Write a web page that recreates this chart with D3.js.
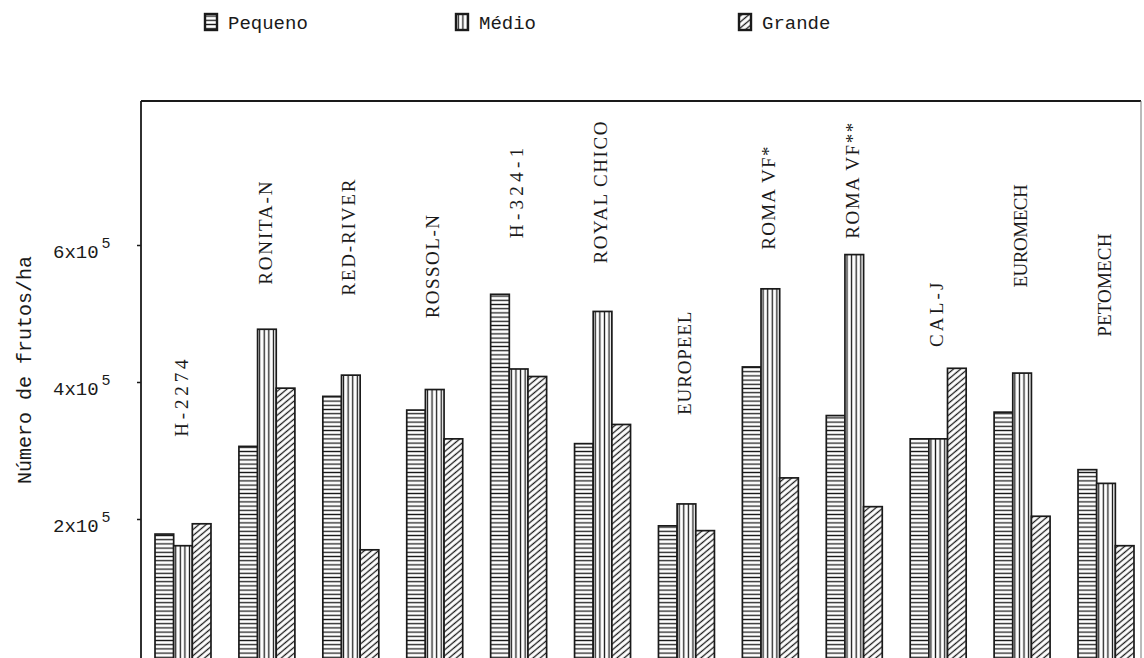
<!DOCTYPE html>
<html>
<head>
<meta charset="utf-8">
<script src="https://cdn.jsdelivr.net/npm/d3@7"></script>
<style>
    body { margin: 0; background: #fff; }
    svg { display: block; }
</style>
</head>
<body>
<div id="chart"></div>
<script>
// cultivars and the three fruit size classes (frutos/ha)
var categories = ["H-2274", "RONITA-N", "RED-RIVER", "ROSSOL-N", "H-324-1", "ROYAL  CHICO",
                  "EUROPEEL", "ROMA  VF*", "ROMA  VF**", "CAL-J", "EUROMECH", "PETOMECH"];
var pequeno = [178000, 306000, 379000, 359000, 528000, 310000, 190000, 422000, 351000, 317000, 356000, 272000];
var medio   = [161000, 477000, 410000, 389000, 419000, 503000, 222000, 536000, 586000, 317000, 413000, 252000];
var grande  = [193000, 391000, 155000, 317000, 408000, 338000, 183000, 260000, 218000, 420000, 204000, 161000];
// value level where each rotated cultivar name starts
var labelStart = [320000, 542000, 526000, 493000, 610000, 573000, 352000, 593000, 609000, 451000, 538000, 466000];
var seriesNames = ["Pequeno", "Médio", "Grande"];
var yTicks = [200000, 400000, 600000];

var w = 1144;
var h = 658;
var frame = { left: 141, right: 1141, top: 101 };
var ink = "#1a1a1a";

var svg = d3.select("#chart").append("svg")
    .attr("width", w)
    .attr("height", h);

// hatch patterns
var defs = svg.append("defs");
var pats = [
    { id: "pat0", w: 8, h: 4.2, line: [0, 2.1, 8, 2.1], rot: 0 },
    { id: "pat1", w: 4.6, h: 8, line: [2.3, 0, 2.3, 8], rot: 0 },
    { id: "pat2", w: 4.6, h: 8, line: [2.3, -1, 2.3, 9], rot: 50 }
];
pats.forEach(function(p) {
    var pat = defs.append("pattern")
        .attr("id", p.id)
        .attr("patternUnits", "userSpaceOnUse")
        .attr("width", p.w)
        .attr("height", p.h)
        .attr("patternTransform", "rotate(" + p.rot + ")");
    pat.append("rect").attr("width", p.w).attr("height", p.h).attr("fill", "#fff");
    pat.append("line")
        .attr("x1", p.line[0]).attr("y1", p.line[1])
        .attr("x2", p.line[2]).attr("y2", p.line[3])
        .attr("stroke", ink)
        .attr("stroke-width", 1.3);
});

var x = d3.scaleBand()
    .domain(categories)
    .range([141, 1148])
    .paddingInner(0.333)
    .paddingOuter(0.167);

var xs = d3.scaleBand()
    .domain(seriesNames)
    .range([0, x.bandwidth()]);

var y = d3.scaleLinear()
    .domain([0, 800000])
    .range([656, 108]);

var data = categories.map(function(c, i) {
    return { cat: c, values: [pequeno[i], medio[i], grande[i]] };
});

// bars
var groups = svg.selectAll("g.group")
    .data(data)
    .enter()
    .append("g")
    .attr("class", "group")
    .attr("transform", function(d) { return "translate(" + x(d.cat) + ",0)"; });

groups.selectAll("rect")
    .data(function(d) {
        return d.values.map(function(v, j) { return { s: seriesNames[j], j: j, v: v }; });
    })
    .enter()
    .append("rect")
    .attr("x", function(d) { return xs(d.s); })
    .attr("y", function(d) { return y(d.v); })
    .attr("width", xs.bandwidth())
    .attr("height", function(d) { return h + 4 - y(d.v); })
    .attr("fill", function(d) { return "url(#pat" + d.j + ")"; })
    .attr("stroke", ink)
    .attr("stroke-width", 1.7);

// cultivar names, rotated
svg.selectAll("text.cat")
    .data(data)
    .enter()
    .append("text")
    .attr("class", "cat")
    .attr("transform", function(d, i) {
        return "translate(" + (x(d.cat) + x.bandwidth() / 2 - 2) + "," + y(labelStart[i]) + ") rotate(-90)";
    })
    .attr("dy", "0.35em")
    .attr("font-family", "Liberation Serif, serif")
    .attr("font-size", "19px")
    .attr("fill", ink)
    .attr("textLength", function(d) { return d.cat.replace("  ", " ").length * 12.9; })
    .attr("lengthAdjust", "spacing")
    .text(function(d) { return d.cat; });

// frame
svg.append("line")
    .attr("x1", frame.left).attr("x2", frame.right)
    .attr("y1", frame.top).attr("y2", frame.top)
    .attr("stroke", ink).attr("stroke-width", 1.8);
svg.append("line")
    .attr("x1", frame.left).attr("x2", frame.left)
    .attr("y1", frame.top).attr("y2", h)
    .attr("stroke", ink).attr("stroke-width", 1.8);
svg.append("line")
    .attr("x1", frame.right).attr("x2", frame.right)
    .attr("y1", frame.top).attr("y2", h)
    .attr("stroke", "#777").attr("stroke-width", 1);

// y axis ticks
var yAxis = d3.axisLeft(y)
    .tickValues(yTicks)
    .tickSize(4)
    .tickFormat("");
var ag = svg.append("g")
    .attr("transform", "translate(" + frame.left + ",0)")
    .call(yAxis);
ag.select(".domain").remove();
ag.selectAll(".tick line").attr("stroke", ink).attr("stroke-width", 1.5);

var tl = svg.selectAll("text.ytick")
    .data(yTicks)
    .enter()
    .append("text")
    .attr("class", "ytick")
    .attr("x", 53)
    .attr("y", function(d) { return y(d) + 13; })
    .attr("font-family", "Liberation Mono, monospace")
    .attr("font-size", "19px")
    .attr("fill", ink);
tl.append("tspan").text(function(d) { return (d / 100000) + "x10"; });
tl.append("tspan")
    .attr("dx", 3)
    .attr("dy", -10)
    .attr("font-size", "15px")
    .text("5");

// y title
svg.append("text")
    .attr("transform", "translate(24,370) rotate(-90)")
    .attr("text-anchor", "middle")
    .attr("dy", "0.35em")
    .attr("font-family", "Liberation Mono, monospace")
    .attr("font-size", "20px")
    .attr("fill", ink)
    .text("Número de frutos/ha");

// legend
var legendX = [205, 456, 739];
var lg = svg.selectAll("g.legend")
    .data(seriesNames)
    .enter()
    .append("g")
    .attr("class", "legend")
    .attr("transform", function(d, i) { return "translate(" + legendX[i] + ",14)"; });
lg.append("rect")
    .attr("width", 12)
    .attr("height", 16)
    .attr("fill", function(d, i) { return "url(#pat" + i + ")"; })
    .attr("stroke", ink)
    .attr("stroke-width", 2.4);
lg.append("text")
    .attr("x", 23)
    .attr("y", 15)
    .attr("font-family", "Liberation Mono, monospace")
    .attr("font-size", "19px")
    .attr("fill", ink)
    .text(function(d) { return d; });
</script>
</body>
</html>
